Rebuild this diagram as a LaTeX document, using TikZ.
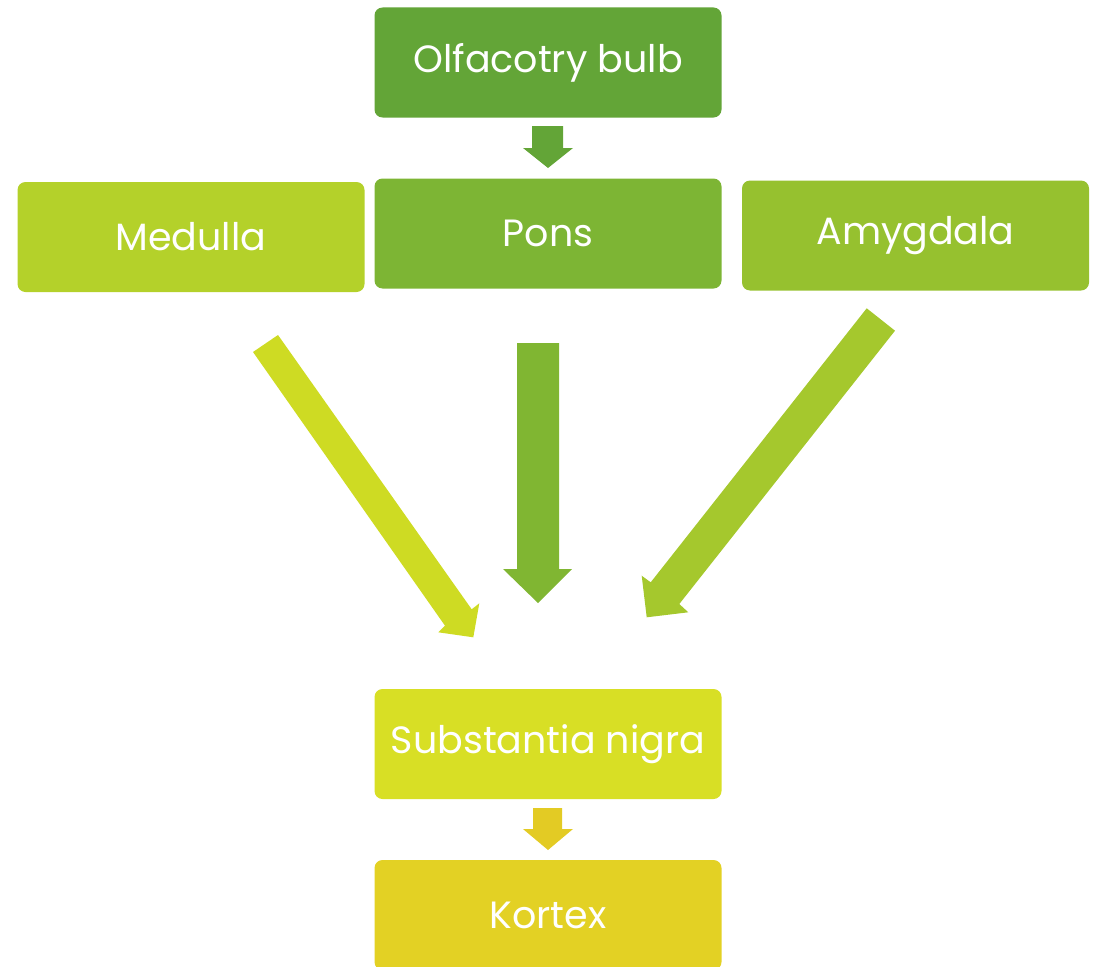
\documentclass[tikz,border=0pt]{standalone}
\usepackage{fontspec}
\setmainfont{Poppins}
\begin{document}
\begin{tikzpicture}[x=1pt,y=-1pt,
  box/.style={rounded corners=8pt, minimum width=347pt, minimum height=110pt, inner sep=0pt,
    text=white, font=\fontsize{38}{44}\selectfont},
  blk/.style={draw=none}]
\useasboundingbox (0,0) rectangle (1094,966);
\begin{scope}
\clip (0,0) rectangle (1094,966);
\definecolor{cBulb}{HTML}{63A537}
\definecolor{cPons}{HTML}{7DB534}
\definecolor{cMed}{HTML}{B4D12A}
\definecolor{cAmy}{HTML}{96C12F}
\definecolor{cNig}{HTML}{D8DF25}
\definecolor{cKor}{HTML}{E3D124}
\definecolor{aLeft}{HTML}{CEDB23}
\definecolor{aMid}{HTML}{80B632}
\definecolor{aRight}{HTML}{A5C82D}
\definecolor{aKor}{HTML}{E3CB24}

\node[box, fill=cBulb] (bulb) at (548,62.5) {Olfacotry bulb};
\node[box, fill=cPons] (pons) at (548,233.5) {Pons};
\node[box, fill=cMed] (med) at (191,237) {Medulla};
\node[box, fill=cAmy] (amy) at (915.5,235.5) {Amygdala};
\node[box, fill=cNig] (nig) at (548,744) {Substantia nigra};
\node[box, fill=cKor] (kor) at (548,915) {Kortex};

% bulb -> pons
\fill[cBulb] (532,126) -- (563,126) -- (563,148) -- (573,148) -- (548,168) -- (523,148) -- (532,148) -- cycle;
% nigra -> kortex
\fill[aKor] (533,808) -- (562,808) -- (562,829) -- (573,829) -- (548,850) -- (523,829) -- (533,829) -- cycle;
% pons -> nigra
\fill[aMid] (517,343) -- (559,343) -- (559,569) -- (572,569) -- (538,603) -- (503,569) -- (517,569) -- cycle;
% medulla -> nigra
\fill[aLeft] (253,352) -- (278,335) -- (471.7,609.3) -- (479.3,603.3) -- (473.3,637.3) -- (438.3,632.3) -- (445,625.7) -- cycle;
% amygdala -> nigra
\fill[aRight] (866.7,308.3) -- (895,330.7) -- (679.3,604) -- (688.3,612.3) -- (646.7,617.3) -- (641.7,575.7) -- (650.7,582.3) -- cycle;
\end{scope}
\end{tikzpicture}
\end{document}
